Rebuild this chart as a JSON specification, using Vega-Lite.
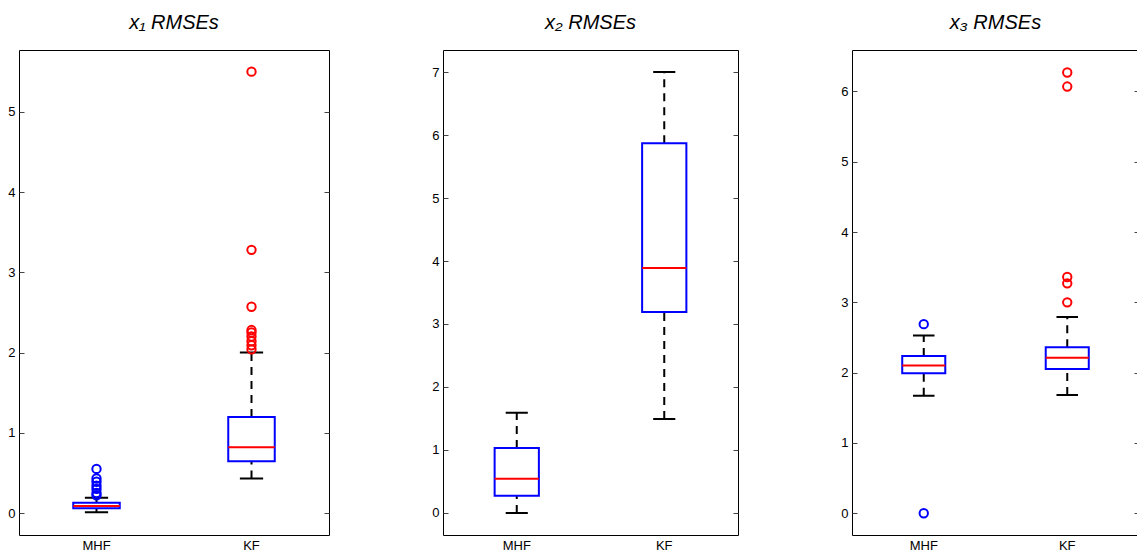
{
  "$schema": "https://vega.github.io/schema/vega-lite/v6.json",
  "padding": {"left": 7, "top": 12, "right": 0, "bottom": 0},
  "spacing": 101,
  "datasets": {
    "boxes": [
      {"panel": 1, "method": "MHF", "lower": 0.01, "q1": 0.06, "median": 0.087, "q3": 0.128, "upper": 0.19},
      {"panel": 1, "method": "KF", "lower": 0.43, "q1": 0.645, "median": 0.82, "q3": 1.197, "upper": 2.0},
      {"panel": 2, "method": "MHF", "lower": 0.0, "q1": 0.275, "median": 0.545, "q3": 1.03, "upper": 1.59},
      {"panel": 2, "method": "KF", "lower": 1.49, "q1": 3.19, "median": 3.89, "q3": 5.87, "upper": 7.0},
      {"panel": 3, "method": "MHF", "lower": 1.67, "q1": 1.99, "median": 2.1, "q3": 2.235, "upper": 2.53},
      {"panel": 3, "method": "KF", "lower": 1.68, "q1": 2.05, "median": 2.21, "q3": 2.36, "upper": 2.79}
    ],
    "outliers": [
      {"panel": 1, "method": "MHF", "value": 0.55},
      {"panel": 1, "method": "MHF", "value": 0.43},
      {"panel": 1, "method": "MHF", "value": 0.39},
      {"panel": 1, "method": "MHF", "value": 0.34},
      {"panel": 1, "method": "MHF", "value": 0.30},
      {"panel": 1, "method": "MHF", "value": 0.25},
      {"panel": 1, "method": "MHF", "value": 0.22},
      {"panel": 1, "method": "KF", "value": 5.5},
      {"panel": 1, "method": "KF", "value": 3.28},
      {"panel": 1, "method": "KF", "value": 2.57},
      {"panel": 1, "method": "KF", "value": 2.28},
      {"panel": 1, "method": "KF", "value": 2.25},
      {"panel": 1, "method": "KF", "value": 2.2},
      {"panel": 1, "method": "KF", "value": 2.14},
      {"panel": 1, "method": "KF", "value": 2.09},
      {"panel": 1, "method": "KF", "value": 2.04},
      {"panel": 3, "method": "MHF", "value": 2.69},
      {"panel": 3, "method": "MHF", "value": 0.0},
      {"panel": 3, "method": "KF", "value": 6.27},
      {"panel": 3, "method": "KF", "value": 6.07},
      {"panel": 3, "method": "KF", "value": 3.36},
      {"panel": 3, "method": "KF", "value": 3.27},
      {"panel": 3, "method": "KF", "value": 3.0}
    ]
  },
  "hconcat": [
    {
      "width": 310, "height": 485,
      "title": {"text": "x₁ RMSEs"},
      "resolve": {"axis": {"y": "independent"}},
      "layer": [
        {"data": {"name": "boxes"}, "transform": [{"filter": "datum.panel == 1"}],
         "mark": {"type": "rule", "stroke": "black", "strokeWidth": 2, "strokeDash": [8, 6]},
         "encoding": {
           "x": {"field": "method", "type": "nominal", "scale": {"domain": ["MHF", "KF"], "paddingInner": 0, "paddingOuter": 0}, "axis": {"ticks": false, "labelAngle": 0, "labelPadding": 4, "title": null}},
           "y": {"field": "q3", "type": "quantitative", "scale": {"domain": [-0.274, 5.77], "nice": false, "zero": false}, "axis": null},
           "y2": {"field": "upper"}}},
        {"data": {"name": "boxes"}, "transform": [{"filter": "datum.panel == 1"}],
         "mark": {"type": "rule", "stroke": "black", "strokeWidth": 2, "strokeDash": [8, 6]},
         "encoding": {
           "x": {"field": "method", "type": "nominal"},
           "y": {"field": "lower", "type": "quantitative", "scale": {"domain": [-0.274, 5.77], "nice": false, "zero": false}, "axis": null},
           "y2": {"field": "q1"}}},
        {"data": {"name": "boxes"}, "transform": [{"filter": "datum.panel == 1"}],
         "mark": {"type": "bar", "width": {"band": 0.15}, "fillOpacity": 0, "stroke": "black", "strokeWidth": 2},
         "encoding": {
           "x": {"field": "method", "type": "nominal"},
           "y": {"field": "upper", "type": "quantitative", "scale": {"domain": [-0.274, 5.77], "nice": false, "zero": false}, "axis": null},
           "y2": {"field": "upper"}}},
        {"data": {"name": "boxes"}, "transform": [{"filter": "datum.panel == 1"}],
         "mark": {"type": "bar", "width": {"band": 0.15}, "fillOpacity": 0, "stroke": "black", "strokeWidth": 2},
         "encoding": {
           "x": {"field": "method", "type": "nominal"},
           "y": {"field": "lower", "type": "quantitative", "scale": {"domain": [-0.274, 5.77], "nice": false, "zero": false}, "axis": null},
           "y2": {"field": "lower"}}},
        {"data": {"name": "boxes"}, "transform": [{"filter": "datum.panel == 1"}],
         "mark": {"type": "bar", "width": {"band": 0.3}, "fillOpacity": 0, "stroke": "#0000ff", "strokeWidth": 2},
         "encoding": {
           "x": {"field": "method", "type": "nominal"},
           "y": {"field": "q1", "type": "quantitative", "scale": {"domain": [-0.274, 5.77], "nice": false, "zero": false},
                 "axis": {"orient": "left", "values": [0, 1, 2, 3, 4, 5], "tickSize": -5, "labelPadding": 9, "title": null}},
           "y2": {"field": "q3"}}},
        {"data": {"name": "boxes"}, "transform": [{"filter": "datum.panel == 1"}],
         "mark": {"type": "bar", "width": {"band": 0.3}, "fillOpacity": 0, "stroke": "#ff0000", "strokeWidth": 2},
         "encoding": {
           "x": {"field": "method", "type": "nominal"},
           "y": {"field": "median", "type": "quantitative", "scale": {"domain": [-0.274, 5.77], "nice": false, "zero": false},
                 "axis": {"orient": "right", "values": [0, 1, 2, 3, 4, 5], "tickSize": -5, "labels": false, "title": null}},
           "y2": {"field": "median"}}},
        {"data": {"name": "outliers"}, "transform": [{"filter": "datum.panel == 1"}],
         "mark": {"type": "point", "shape": "circle", "filled": false, "size": 70, "strokeWidth": 2, "opacity": 1},
         "encoding": {
           "x": {"field": "method", "type": "nominal"},
           "y": {"field": "value", "type": "quantitative", "scale": {"domain": [-0.274, 5.77], "nice": false, "zero": false}, "axis": null},
           "color": {"field": "method", "type": "nominal", "scale": {"domain": ["MHF", "KF"], "range": ["#0000ff", "#ff0000"]}, "legend": null}}}
      ]
    },
    {
      "width": 295, "height": 485,
      "title": {"text": "x₂ RMSEs"},
      "resolve": {"axis": {"y": "independent"}},
      "layer": [
        {"data": {"name": "boxes"}, "transform": [{"filter": "datum.panel == 2"}],
         "mark": {"type": "rule", "stroke": "black", "strokeWidth": 2, "strokeDash": [8, 6]},
         "encoding": {
           "x": {"field": "method", "type": "nominal", "scale": {"domain": ["MHF", "KF"], "paddingInner": 0, "paddingOuter": 0}, "axis": {"ticks": false, "labelAngle": 0, "labelPadding": 4, "title": null}},
           "y": {"field": "q3", "type": "quantitative", "scale": {"domain": [-0.35, 7.35], "nice": false, "zero": false}, "axis": null},
           "y2": {"field": "upper"}}},
        {"data": {"name": "boxes"}, "transform": [{"filter": "datum.panel == 2"}],
         "mark": {"type": "rule", "stroke": "black", "strokeWidth": 2, "strokeDash": [8, 6]},
         "encoding": {
           "x": {"field": "method", "type": "nominal"},
           "y": {"field": "lower", "type": "quantitative", "scale": {"domain": [-0.35, 7.35], "nice": false, "zero": false}, "axis": null},
           "y2": {"field": "q1"}}},
        {"data": {"name": "boxes"}, "transform": [{"filter": "datum.panel == 2"}],
         "mark": {"type": "bar", "width": {"band": 0.15}, "fillOpacity": 0, "stroke": "black", "strokeWidth": 2},
         "encoding": {
           "x": {"field": "method", "type": "nominal"},
           "y": {"field": "upper", "type": "quantitative", "scale": {"domain": [-0.35, 7.35], "nice": false, "zero": false}, "axis": null},
           "y2": {"field": "upper"}}},
        {"data": {"name": "boxes"}, "transform": [{"filter": "datum.panel == 2"}],
         "mark": {"type": "bar", "width": {"band": 0.15}, "fillOpacity": 0, "stroke": "black", "strokeWidth": 2},
         "encoding": {
           "x": {"field": "method", "type": "nominal"},
           "y": {"field": "lower", "type": "quantitative", "scale": {"domain": [-0.35, 7.35], "nice": false, "zero": false}, "axis": null},
           "y2": {"field": "lower"}}},
        {"data": {"name": "boxes"}, "transform": [{"filter": "datum.panel == 2"}],
         "mark": {"type": "bar", "width": {"band": 0.3}, "fillOpacity": 0, "stroke": "#0000ff", "strokeWidth": 2},
         "encoding": {
           "x": {"field": "method", "type": "nominal"},
           "y": {"field": "q1", "type": "quantitative", "scale": {"domain": [-0.35, 7.35], "nice": false, "zero": false},
                 "axis": {"orient": "left", "values": [0, 1, 2, 3, 4, 5, 6, 7], "tickSize": -5, "labelPadding": 9, "title": null}},
           "y2": {"field": "q3"}}},
        {"data": {"name": "boxes"}, "transform": [{"filter": "datum.panel == 2"}],
         "mark": {"type": "bar", "width": {"band": 0.3}, "fillOpacity": 0, "stroke": "#ff0000", "strokeWidth": 2},
         "encoding": {
           "x": {"field": "method", "type": "nominal"},
           "y": {"field": "median", "type": "quantitative", "scale": {"domain": [-0.35, 7.35], "nice": false, "zero": false},
                 "axis": {"orient": "right", "values": [0, 1, 2, 3, 4, 5, 6, 7], "tickSize": -5, "labels": false, "title": null}},
           "y2": {"field": "median"}}}
      ]
    },
    {
      "width": 287, "height": 485,
      "title": {"text": "x₃ RMSEs"},
      "resolve": {"axis": {"y": "independent"}},
      "layer": [
        {"data": {"name": "boxes"}, "transform": [{"filter": "datum.panel == 3"}],
         "mark": {"type": "rule", "stroke": "black", "strokeWidth": 2, "strokeDash": [8, 6]},
         "encoding": {
           "x": {"field": "method", "type": "nominal", "scale": {"domain": ["MHF", "KF"], "paddingInner": 0, "paddingOuter": 0}, "axis": {"ticks": false, "labelAngle": 0, "labelPadding": 4, "title": null}},
           "y": {"field": "q3", "type": "quantitative", "scale": {"domain": [-0.31, 6.59], "nice": false, "zero": false}, "axis": null},
           "y2": {"field": "upper"}}},
        {"data": {"name": "boxes"}, "transform": [{"filter": "datum.panel == 3"}],
         "mark": {"type": "rule", "stroke": "black", "strokeWidth": 2, "strokeDash": [8, 6]},
         "encoding": {
           "x": {"field": "method", "type": "nominal"},
           "y": {"field": "lower", "type": "quantitative", "scale": {"domain": [-0.31, 6.59], "nice": false, "zero": false}, "axis": null},
           "y2": {"field": "q1"}}},
        {"data": {"name": "boxes"}, "transform": [{"filter": "datum.panel == 3"}],
         "mark": {"type": "bar", "width": {"band": 0.15}, "fillOpacity": 0, "stroke": "black", "strokeWidth": 2},
         "encoding": {
           "x": {"field": "method", "type": "nominal"},
           "y": {"field": "upper", "type": "quantitative", "scale": {"domain": [-0.31, 6.59], "nice": false, "zero": false}, "axis": null},
           "y2": {"field": "upper"}}},
        {"data": {"name": "boxes"}, "transform": [{"filter": "datum.panel == 3"}],
         "mark": {"type": "bar", "width": {"band": 0.15}, "fillOpacity": 0, "stroke": "black", "strokeWidth": 2},
         "encoding": {
           "x": {"field": "method", "type": "nominal"},
           "y": {"field": "lower", "type": "quantitative", "scale": {"domain": [-0.31, 6.59], "nice": false, "zero": false}, "axis": null},
           "y2": {"field": "lower"}}},
        {"data": {"name": "boxes"}, "transform": [{"filter": "datum.panel == 3"}],
         "mark": {"type": "bar", "width": {"band": 0.3}, "fillOpacity": 0, "stroke": "#0000ff", "strokeWidth": 2},
         "encoding": {
           "x": {"field": "method", "type": "nominal"},
           "y": {"field": "q1", "type": "quantitative", "scale": {"domain": [-0.31, 6.59], "nice": false, "zero": false},
                 "axis": {"orient": "left", "values": [0, 1, 2, 3, 4, 5, 6], "tickSize": -5, "labelPadding": 9, "title": null}},
           "y2": {"field": "q3"}}},
        {"data": {"name": "boxes"}, "transform": [{"filter": "datum.panel == 3"}],
         "mark": {"type": "bar", "width": {"band": 0.3}, "fillOpacity": 0, "stroke": "#ff0000", "strokeWidth": 2},
         "encoding": {
           "x": {"field": "method", "type": "nominal"},
           "y": {"field": "median", "type": "quantitative", "scale": {"domain": [-0.31, 6.59], "nice": false, "zero": false},
                 "axis": {"orient": "right", "values": [0, 1, 2, 3, 4, 5, 6], "tickSize": -5, "labels": false, "title": null}},
           "y2": {"field": "median"}}},
        {"data": {"name": "outliers"}, "transform": [{"filter": "datum.panel == 3"}],
         "mark": {"type": "point", "shape": "circle", "filled": false, "size": 70, "strokeWidth": 2, "opacity": 1},
         "encoding": {
           "x": {"field": "method", "type": "nominal"},
           "y": {"field": "value", "type": "quantitative", "scale": {"domain": [-0.31, 6.59], "nice": false, "zero": false}, "axis": null},
           "color": {"field": "method", "type": "nominal", "scale": {"domain": ["MHF", "KF"], "range": ["#0000ff", "#ff0000"]}, "legend": null}}}
      ]
    }
  ],
  "config": {
    "view": {"stroke": "black", "strokeWidth": 1},
    "font": "Liberation Sans",
    "axis": {"grid": false, "domain": false, "labelFont": "Liberation Sans", "labelFontSize": 13, "labelColor": "black", "tickColor": "#444", "tickWidth": 1},
    "title": {"font": "Liberation Sans", "fontSize": 20, "fontStyle": "italic", "fontWeight": "normal", "color": "black", "baseline": "alphabetic", "offset": 17, "anchor": "middle"}
  }
}
